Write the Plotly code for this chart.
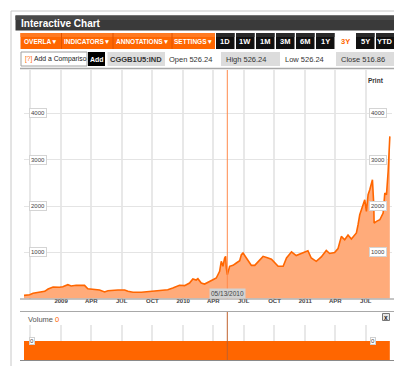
import plotly.graph_objects as go

W, H = 402, 366

# ---------------- data ----------------
dates = [
    "2008-09-12", "2008-09-29", "2008-10-09", "2008-10-24", "2008-11-13", "2008-11-23",
    "2008-12-08", "2008-12-27", "2009-01-06", "2009-01-21", "2009-01-31", "2009-02-15",
    "2009-03-02", "2009-03-12", "2009-03-22", "2009-04-06", "2009-04-26", "2009-05-11",
    "2009-05-21", "2009-06-20", "2009-07-10", "2009-07-20", "2009-08-04", "2009-08-29",
    "2009-09-18", "2009-10-17", "2009-11-16", "2009-12-01", "2009-12-21", "2010-01-05",
    "2010-01-20", "2010-01-30", "2010-02-09", "2010-02-14", "2010-02-24", "2010-03-06",
    "2010-03-16", "2010-03-31", "2010-04-10", "2010-04-20", "2010-04-25", "2010-04-30",
    "2010-05-05", "2010-05-08", "2010-05-10", "2010-05-13", "2010-05-20", "2010-05-30",
    "2010-06-09", "2010-06-19", "2010-06-24", "2010-06-29", "2010-07-09", "2010-07-24",
    "2010-08-03", "2010-08-18", "2010-08-28", "2010-09-12", "2010-09-22", "2010-10-12",
    "2010-10-27", "2010-11-06", "2010-11-21", "2010-12-05", "2010-12-25", "2011-01-09",
    "2011-01-19", "2011-02-03", "2011-02-18", "2011-03-05", "2011-03-15", "2011-03-30",
    "2011-04-09", "2011-04-19", "2011-04-29", "2011-05-09", "2011-05-19", "2011-06-03",
    "2011-06-08", "2011-06-13", "2011-06-23", "2011-06-28", "2011-07-03", "2011-07-08",
    "2011-07-13", "2011-07-18", "2011-07-21", "2011-07-25", "2011-07-26", "2011-08-02",
    "2011-08-12", "2011-08-22", "2011-08-27", "2011-09-01", "2011-09-06", "2011-09-11",
]
close = [
    70, 84, 114, 136, 158, 207,
    250, 244, 257, 300, 272, 287,
    279, 285, 214, 201, 186, 143,
    171, 186, 186, 158, 136, 136,
    149, 158, 192, 229, 287, 280,
    337, 423, 402, 430, 337, 315,
    358, 408, 445, 590, 806, 698,
    877, 913, 661, 517, 698, 719,
    769, 818, 948, 985, 877, 719,
    719, 840, 913, 877, 850, 698,
    698, 877, 1010, 930, 1000, 1035,
    877, 806, 900, 1040, 975, 995,
    1080, 1345, 1272, 1375, 1290, 1420,
    1596, 1812, 2028, 2136, 1886, 2244,
    2352, 2533, 2568, 2028, 1633, 1670,
    1704, 1849, 2281, 2244, 2749, 3505,
]
vol_dates = ["2008-09-12", "2011-09-11"]
volume = [0, 0]

tick_dates = ["2008-10-01", "2009-01-01", "2009-04-01", "2009-07-01", "2009-10-01",
              "2010-01-01", "2010-04-01", "2010-07-01", "2010-10-01", "2011-01-01",
              "2011-04-01", "2011-07-01"]
tick_text = ["", "2009", "APR", "JUL", "OCT", "2010", "APR", "JUL", "OCT", "2011", "APR", "JUL"]
price_ticks = [1000, 2000, 3000, 4000]
cross_date = "2010-05-13"
cross_label = "05/13/2010"

symbol = "CGGB1U5:IND"
quote_labels = ["Open 526.24", "High 526.24", "Low 526.24", "Close 516.86"]
menus = ["OVERLA\u25BC", "INDICATORS\u25BC", "ANNOTATIONS\u25BC", "SETTINGS\u25BC"]
ranges = ["1D", "1W", "1M", "3M", "6M", "1Y", "3Y", "5Y", "YTD"]
active_range = "3Y"

# ---------------- helpers ----------------
FONT = "Liberation Sans, Arial, sans-serif"
ORANGE = "#ff6600"


def X(p):
    return p / W


def Y(p):
    return 1 - p / H


shapes = []
annotations = []


def rect(x0, y0, x1, y1, fill, line=None, lw=0, layer="above"):
    shapes.append(dict(type="rect", xref="paper", yref="paper",
                       x0=X(x0), x1=X(x1), y0=Y(y1), y1=Y(y0),
                       fillcolor=fill, line=dict(color=line or fill, width=lw),
                       layer=layer))


def hline(x0, x1, y, color, w=1, layer="above"):
    shapes.append(dict(type="line", xref="paper", yref="paper",
                       x0=X(x0), x1=X(x1), y0=Y(y), y1=Y(y),
                       line=dict(color=color, width=w), layer=layer))


def text(x, y, s, size=8, color="#333", bold=False, xanchor="center", **kw):
    annotations.append(dict(xref="paper", yref="paper", x=X(x), y=Y(y), text=s,
                            showarrow=False, xanchor=xanchor, yanchor="middle",
                            font=dict(family=FONT, size=size, color=color,
                                      weight="bold" if bold else "normal"), **kw))


# ---------------- widget frame ----------------
rect(395, 3, 399.5, 364.5, "#9a9a9a", layer="below")
rect(396, 4, 398.5, 364, "#5a5a5a", layer="below")
rect(3, 359.5, 399.5, 364.5, "#9a9a9a", layer="below")
rect(4, 360.5, 398.5, 363.5, "#5a5a5a", layer="below")
rect(3, 3, 394.5, 359, "#ffffff", line="#c8c8c8", lw=1, layer="below")

# title bar
rect(7.5, 7.5, 392.5, 22.5, "#3a3a3a")
rect(7.5, 7.5, 392.5, 12, "#4a4a4a")
text(11, 15.3, "Interactive Chart", size=10, color="#ffffff", bold=True, xanchor="left")

# orange menu bar
rect(12.5, 25, 207, 41, ORANGE)
rect(12.5, 25, 207, 29, "#ff7a22")
menu_x = [(12.5, 53.5), (53.5, 105), (105, 164), (164, 207)]
for (a, b), m in zip(menu_x, menus):
    text((a + b) / 2, 33.3, m, size=6.5, color="#ffffff", bold=True)
for sx in [53.5, 105, 164]:
    shapes.append(dict(type="line", xref="paper", yref="paper", x0=X(sx), x1=X(sx),
                       y0=Y(41), y1=Y(25), line=dict(color="#e05500", width=1)))

# range buttons
for i, r in enumerate(ranges):
    x0 = 208 + i * 20
    x1 = x0 + 18.5 if r != "YTD" else 386
    if r == active_range:
        rect(x0, 25, x1, 41, "#ffffff")
        text((x0 + x1) / 2, 33.3, r, size=7.5, color=ORANGE, bold=True)
    else:
        rect(x0, 25, x1, 41, "#111111")
        rect(x0, 25, x1, 29, "#2a2a2a")
        text((x0 + x1) / 2, 33.3, r, size=7.5, color="#ffffff", bold=True)

# info row
rect(13, 44, 79, 58, "#ffffff", line="#a0a0a0", lw=1)
text(14.5, 51, "[?]", size=6.5, color=ORANGE, xanchor="left")
text(23.5, 51, "Add a Compariso", size=6.8, color="#222", xanchor="left")
rect(80, 44, 97, 58, "#000000")
text(88.5, 51, "Add", size=7, color="#ffffff", bold=True)
rect(99.5, 44, 157, 58, "#dcdcdc")
text(128.3, 51, symbol, size=7.5, color="#333", bold=True)
text(159, 51, quote_labels[0], size=7.5, color="#333", xanchor="left")
rect(213, 44, 272, 58, "#dcdcdc")
text(216, 51, quote_labels[1], size=7.5, color="#333", xanchor="left")
text(275, 51, quote_labels[2], size=7.5, color="#333", xanchor="left")
rect(328, 44, 391.5, 58, "#dcdcdc")
text(331, 51, quote_labels[3], size=7.5, color="#333", xanchor="left")

# chart frame lines
hline(12, 391.5, 60.5, "#a8a8a8", 1.5)
hline(12, 387, 291, "#8a8a8a", 1)
hline(12, 387, 303.5, "#a8a8a8", 1)
hline(12, 387, 352.5, "#8a8a8a", 1)
text(368, 72, "Print", size=6.5, color="#333", bold=True)

# volume panel shapes (data refs)
shapes.append(dict(type="rect", xref="x2", yref="y2", x0=vol_dates[0], x1=vol_dates[-1],
                   y0=-1, y1=max(volume), fillcolor=ORANGE, line=dict(width=0), layer="above"))
# crosshair
shapes.append(dict(type="line", xref="x", yref="paper", x0=cross_date, x1=cross_date,
                   y0=Y(290.6), y1=Y(62), line=dict(color="#ff8a4c", width=1), layer="above"))
shapes.append(dict(type="line", xref="x2", yref="paper", x0=cross_date, x1=cross_date,
                   y0=Y(352), y1=Y(304), line=dict(color="#c0622e", width=1), layer="above"))
annotations.append(dict(xref="x", yref="paper", x=cross_date, y=Y(285.7), text=cross_label,
                        showarrow=False, xanchor="center", yanchor="middle",
                        bgcolor="#d2d2d2", borderpad=1,
                        font=dict(family=FONT, size=6.5, color="#444")))

# volume label & close icon
text(18, 311.5, "Volume <span style='color:#ff6600'>0</span>", size=7.5, color="#555", xanchor="left")
rect(374.5, 305.5, 381.5, 312.5, "#e6e6e6", line="#777", lw=1)
text(378, 309, "x", size=6.5, color="#222", bold=True)
for xp in (24.3, 365):
    annotations.append(dict(xref="paper", yref="y2", x=X(xp), y=max(volume), text="0", showarrow=False,
                            xanchor="center", yanchor="middle", bgcolor="#ffffff",
                            bordercolor="#d0d0d0", borderwidth=1, borderpad=0,
                            font=dict(family=FONT, size=6, color="#444")))

# y-axis boxed labels (both sides, inside plot)
for v in price_ticks:
    for xp in (30, 370):
        annotations.append(dict(xref="paper", yref="y", x=X(xp), y=v, text=str(v), showarrow=False,
                                xanchor="center", yanchor="middle", bgcolor="#ffffff",
                                bordercolor="#d4d4d4", borderwidth=1, borderpad=1,
                                font=dict(family=FONT, size=6, color="#444")))

# ---------------- figure ----------------
fig = go.Figure()
fig.add_trace(go.Scatter(x=dates, y=close, mode="lines", xaxis="x", yaxis="y",
                         line=dict(color=ORANGE, width=1.6), fill="tozeroy",
                         fillcolor="#ffab7a", hoverinfo="x+y"))
fig.add_trace(go.Scatter(x=vol_dates, y=volume, mode="lines", xaxis="x2", yaxis="y2",
                         line=dict(color=ORANGE, width=0), hoverinfo="skip"))

xr = ["2008-09-12", "2011-09-16"]
xdom = [X(16), X(383.5)]
fig.update_layout(
    width=W, height=H, autosize=False,
    margin=dict(l=0, r=0, t=0, b=0, pad=0),
    paper_bgcolor="#ffffff", plot_bgcolor="rgba(0,0,0,0)",
    showlegend=False,
    xaxis=dict(domain=xdom, range=xr, type="date", anchor="y",
               tickvals=tick_dates, ticktext=tick_text, ticks="",
               ticklabelstandoff=-3,
               showgrid=True, gridcolor="#e8e8e8", gridwidth=1.5,
               showline=False, zeroline=False,
               tickfont=dict(family=FONT, size=6, color="#444", weight="bold")),
    yaxis=dict(domain=[Y(290.6), Y(62)], range=[0, 4940], anchor="x",
               tickvals=price_ticks, showticklabels=False, ticks="",
               showgrid=True, gridcolor="#e4e4e4", gridwidth=1,
               zeroline=False, showline=False),
    xaxis2=dict(domain=xdom, range=xr, type="date", anchor="y2",
                tickvals=tick_dates, showticklabels=False, ticks="",
                showgrid=True, gridcolor="#e8e8e8", gridwidth=1.5,
                showline=False, zeroline=False),
    yaxis2=dict(domain=[Y(352), Y(316.7)], range=[-1, 0.86], anchor="x2",
                showgrid=False, showticklabels=False, zeroline=False, ticks=""),
    shapes=shapes,
    annotations=annotations,
)
fig.write_html("out.html")
